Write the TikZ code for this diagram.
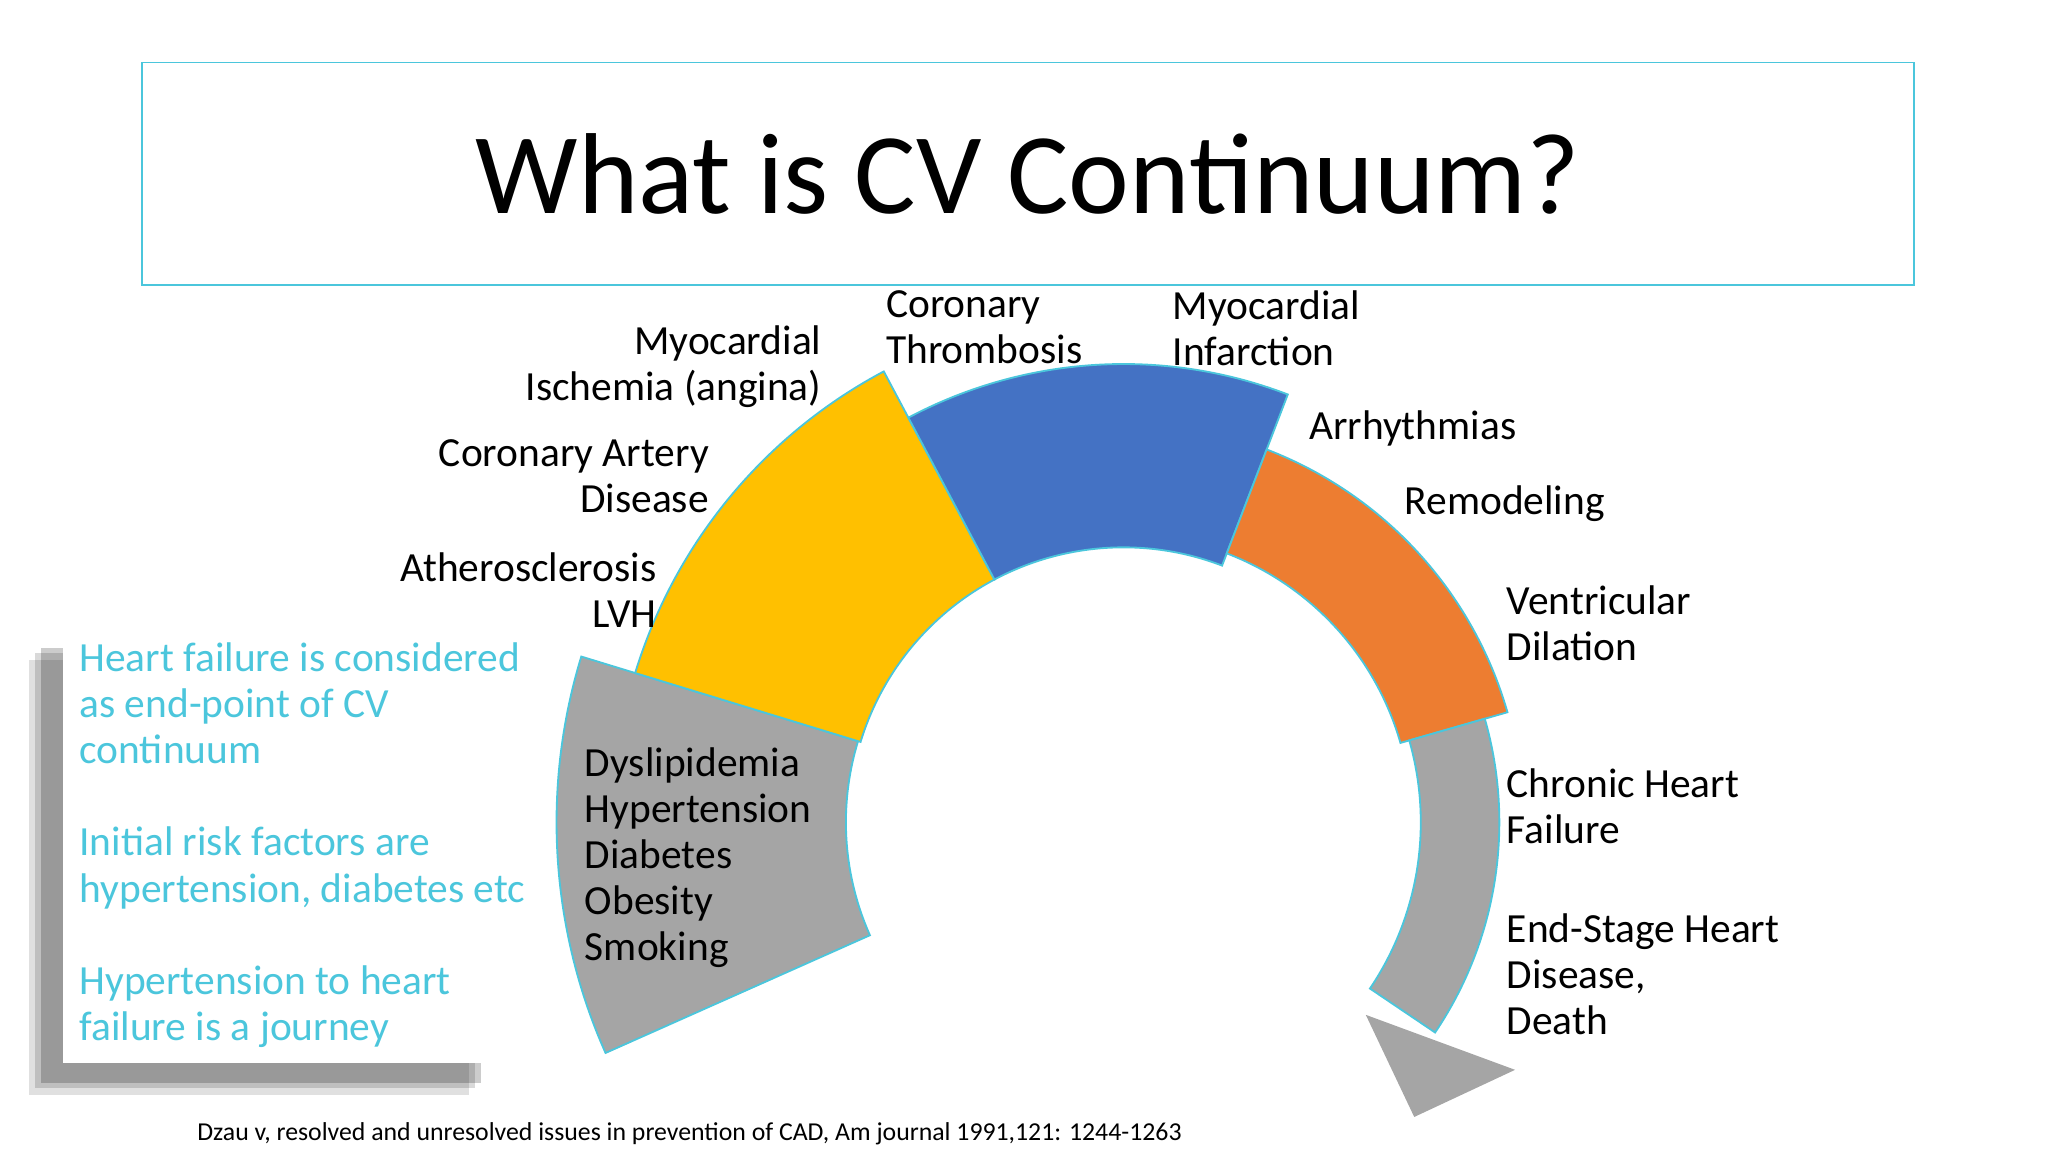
\documentclass[tikz,border=0pt]{standalone}
\usepackage{fontspec}
\setmainfont{Carlito}
\definecolor{cvcyan}{HTML}{4BC6DC}
\definecolor{cvgray}{HTML}{A5A5A5}
\definecolor{cvyellow}{HTML}{FFC000}
\definecolor{cvblue}{HTML}{4472C4}
\definecolor{cvorange}{HTML}{ED7D31}
\tikzset{
  seg/.style={draw=cvcyan, line width=0.4pt},
  lbl/.style={font=\fontsize{9}{10}\selectfont, align=left, anchor=west, inner sep=0pt},
  rlbl/.style={font=\fontsize{9}{10}\selectfont, align=right, anchor=east, inner sep=0pt},
  note/.style={font=\fontsize{9}{10}\selectfont, text=cvcyan, align=left, anchor=north west, inner sep=0pt}
}
% segment: colour, start angle, end angle, inner radius, outer radius
\newcommand\cvseg[5]{%
  \filldraw[seg, fill=#1] ([shift={(858,628)}]-#2:#4) arc[start angle=-#2, end angle=-#3, radius=#4]
    -- ([shift={(858,628)}]-#3:#5) arc[start angle=-#3, end angle=-#2, radius=#5] -- cycle;}
\begin{document}
\begin{tikzpicture}[x=0.01cm, y=-0.01cm]
    \useasboundingbox (0,0) rectangle (1564,880);

    % Title
    \node[draw=cvcyan, minimum width=13.52cm, minimum height=1.7cm, anchor=north west,
          font=\fontsize{25}{28}\selectfont] (title) at (108,47) {What is CV Continuum?};

    % Left box with shadow
    \foreach \o/\a in {14/0.12, 9/0.15, 5/0.2}
      \fill[black, opacity=\a] (48-\o-12,490+\o) rectangle (372-\o,812+\o+10);
    \fill[white] (48,490) rectangle (372,812);
    \node[note] (n1) at (60,490) {Heart failure is considered\\as end-point of CV\\continuum};
    \node[note] (n2) at (60,631) {Initial risk factors are\\hypertension, diabetes etc};
    \node[note] (n3) at (60,737) {Hypertension to heart\\failure is a journey};

    % Continuum arc
    \cvseg{cvgray}{204}{163}{212}{433}
    \cvseg{cvyellow}{163}{118}{210}{390}
    \cvseg{cvblue}{118}{69}{210}{350}
    \cvseg{cvorange}{69}{16}{220}{305}
    \cvseg{cvgray}{16}{-34}{227}{287}
    \fill[cvgray] (1043,775) -- (1157,817) -- (1080,853) -- cycle;

    % Labels
    \node[rlbl] (isch) at (628,280) {Myocardial\\Ischemia (angina)};
    \node[lbl] (thromb) at (676,250) {Coronary\\Thrombosis};
    \node[lbl] (infarct) at (895,251) {Myocardial\\Infarction};
    \node[lbl] (arrh) at (999,327) {Arrhythmias};
    \node[lbl] (remod) at (1072,385) {Remodeling};
    \node[lbl] (dil) at (1150,476) {Ventricular\\Dilation};
    \node[rlbl] (cad) at (542,364) {Coronary Artery\\Disease};
    \node[rlbl] (ath) at (502,451) {Atherosclerosis\\LVH};
    \node[lbl] (risk) at (446,655) {Dyslipidemia\\Hypertension\\Diabetes\\Obesity\\Smoking};
    \node[lbl] (chf) at (1150,616) {Chronic Heart\\Failure};
    \node[lbl] (end) at (1150,744) {End-Stage Heart\\Disease,\\Death};

    % Reference
    \node[anchor=west, inner sep=0pt, font=\fontsize{5.6}{6}\selectfont] (ref) at (150,866)
      {Dzau v, resolved and unresolved issues in prevention of CAD, Am journal 1991,121: 1244-1263};
\end{tikzpicture}
\end{document}
